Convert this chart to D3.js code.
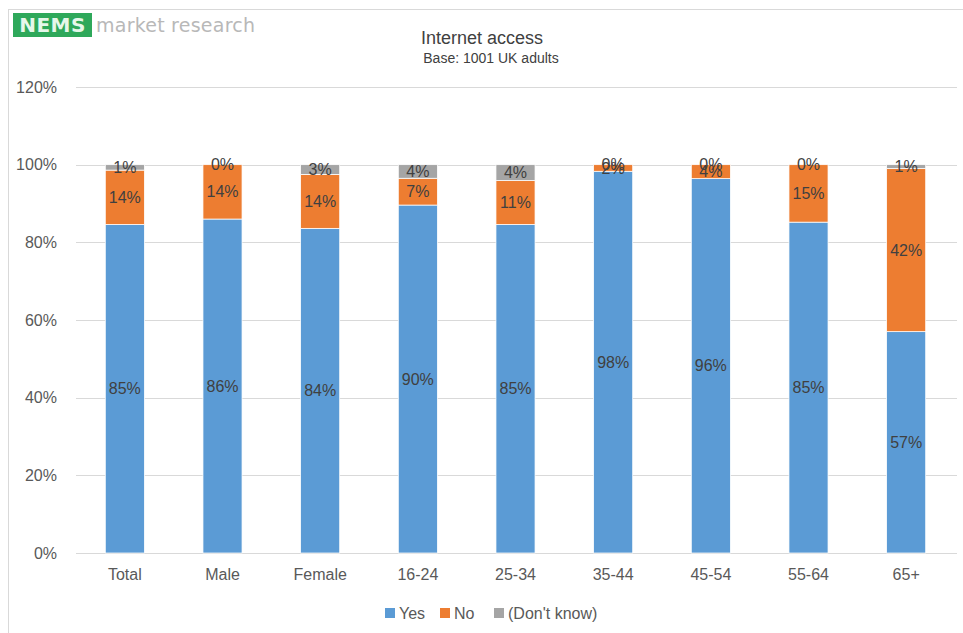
<!DOCTYPE html>
<html>
<head>
<meta charset="utf-8">
<script src="https://cdn.jsdelivr.net/npm/d3@7"></script>
<style>
  html, body { margin: 0; padding: 0; background: #fff; }
  svg { display: block; font-family: "Liberation Sans", Arial, sans-serif; }
</style>
</head>
<body>
<svg id="chart" width="963" height="633"></svg>
<script>
// Internet access by demographic group (% of UK adults)
const categories = ["Total", "Male", "Female", "16-24", "25-34", "35-44", "45-54", "55-64", "65+"];
const yesValues  = [84.6, 86.0, 83.6, 89.6, 84.6, 98.3, 96.4, 85.2, 57.0];
const noValues   = [14.0, 14.0, 13.9,  6.9, 11.3,  1.7,  3.6, 14.8, 42.0];
const dkValues   = [ 1.4,  0.0,  2.5,  3.5,  4.1,  0.0,  0.0,  0.0,  1.0];
const seriesNames = ["Yes", "No", "(Don't know)"];
const seriesColors = ["#5b9bd5", "#ed7d31", "#a5a5a5"];
const yTicks = [0, 20, 40, 60, 80, 100, 120];

const svg = d3.select("#chart");
const W = 963, H = 633;
const margin = { left: 76, top: 87 };
const plotRight = 955, plotBottom = 553;

// Frame lines (left and top)
svg.append("line").attr("x1", 8.5).attr("x2", 8.5).attr("y1", 9).attr("y2", H)
  .attr("stroke", "#d9d9d9").attr("stroke-width", 1);
svg.append("line").attr("x1", 8).attr("x2", W).attr("y1", 9.5).attr("y2", 9.5)
  .attr("stroke", "#d9d9d9").attr("stroke-width", 1);

// Logo
const logo = svg.append("g");
logo.append("rect").attr("x", 13).attr("y", 13).attr("width", 79).attr("height", 24).attr("fill", "#2ea85a");
logo.append("text").attr("x", 52.5).attr("y", 32).attr("text-anchor", "middle")
  .attr("fill", "#e6f7ea").attr("font-size", 20).attr("font-weight", "bold")
  .attr("font-family", "DejaVu Sans, sans-serif").attr("letter-spacing", 0.5).text("NEMS");
logo.append("text").attr("x", 96).attr("y", 32)
  .attr("fill", "#b8b8b8").attr("font-size", 19)
  .attr("font-family", "DejaVu Sans, sans-serif").attr("textLength", 159).text("market research");

// Title
svg.append("text").attr("x", 482).attr("y", 44).attr("text-anchor", "middle")
  .attr("fill", "#404040").attr("font-size", 18).text("Internet access");
svg.append("text").attr("x", 491).attr("y", 63).attr("text-anchor", "middle")
  .attr("fill", "#404040").attr("font-size", 14).text("Base: 1001 UK adults");

// Scales
const x = d3.scaleBand().domain(categories).range([margin.left, plotRight]).paddingInner(0.6).paddingOuter(0.3);
const y = d3.scaleLinear().domain([0, 120]).range([plotBottom, margin.top]);

// Gridlines
svg.append("g").selectAll("line").data(yTicks).join("line")
  .attr("x1", margin.left).attr("x2", plotRight + 2)
  .attr("y1", d => Math.round(y(d)) + 0.5).attr("y2", d => Math.round(y(d)) + 0.5)
  .attr("stroke", "#d9d9d9").attr("stroke-width", 1);

// Y axis labels
const yAxis = d3.axisLeft(y).tickValues(yTicks).tickFormat(d => d + "%").tickSize(0).tickPadding(0);
const yg = svg.append("g").attr("transform", `translate(57,0)`).call(yAxis);
yg.select(".domain").remove();
yg.selectAll("text").attr("fill", "#595959").attr("font-size", 16)
  .attr("font-family", "Liberation Sans, Arial, sans-serif");

// X axis labels
const xAxis = d3.axisBottom(x).tickSize(0).tickPadding(0);
const xg = svg.append("g").attr("transform", `translate(0,${plotBottom + 16})`).call(xAxis);
xg.select(".domain").remove();
xg.selectAll("text").attr("fill", "#595959").attr("font-size", 16)
  .attr("font-family", "Liberation Sans, Arial, sans-serif");

// Stacked data
const rows = categories.map((c, i) => ({ cat: c, Yes: yesValues[i], No: noValues[i], "(Don't know)": dkValues[i] }));
const stack = d3.stack().keys(seriesNames)(rows);

const layers = svg.append("g").selectAll("g").data(stack).join("g")
  .attr("fill", (d, i) => seriesColors[i]);

layers.selectAll("rect").data(d => d).join("rect")
  .attr("x", d => x(d.data.cat))
  .attr("width", x.bandwidth())
  .attr("y", d => y(d[1]))
  .attr("height", d => Math.max(0, y(d[0]) - y(d[1])))
  .attr("stroke", "#ffffff").attr("stroke-width", 0.75);

// Data labels, centred in each segment
const labels = svg.append("g");
stack.forEach(layer => {
  layer.forEach(d => {
    const v = d[1] - d[0];
    labels.append("text")
      .attr("x", x(d.data.cat) + x.bandwidth() / 2)
      .attr("y", y((d[0] + d[1]) / 2))
      .attr("dy", "0.35em")
      .attr("text-anchor", "middle")
      .attr("fill", "#404040").attr("font-size", 16)
      .text(Math.round(v) + "%");
  });
});

// Legend
const legendItems = [
  { name: "Yes", x: 385 },
  { name: "No", x: 440 },
  { name: "(Don't know)", x: 494 }
];
const lg = svg.append("g");
legendItems.forEach((it, i) => {
  lg.append("rect").attr("x", it.x).attr("y", 608).attr("width", 10).attr("height", 10).attr("fill", seriesColors[i]);
  lg.append("text").attr("x", it.x + 14).attr("y", 619).attr("fill", "#595959").attr("font-size", 16).text(it.name);
});
</script>
</body>
</html>
